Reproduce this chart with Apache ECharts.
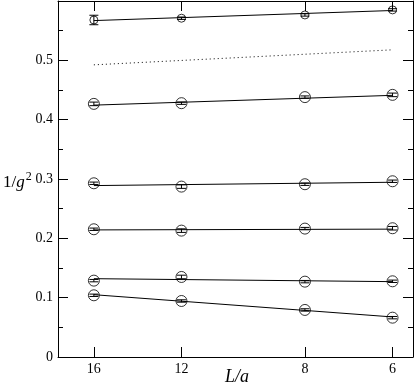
<!DOCTYPE html>
<html>
<head>
<meta charset="utf-8">
<script src="https://cdn.jsdelivr.net/npm/echarts@6/dist/echarts.min.js"></script>
<style>html,body{margin:0;padding:0;background:#fff}#c{width:415px;height:391px}</style>
</head>
<body>
<div id="c"></div>
<script>
// L/a values (x axis is logarithmic in L, reversed)
const L = [16, 12, 8, 6];
const xTickLabels = [16, 12, 8, 6];
// measured 1/g^2 values and errors
const s1 = [0.568, 0.571, 0.5765, 0.585];
const e1 = [0.008, 0.002, 0.002, 0.002];
const s2 = [0.4266, 0.4278, 0.438, 0.4418];
const e2 = [0.003, 0.002, 0.002, 0.003];
const s3 = [0.2928, 0.2872, 0.2912, 0.2962];
const e3 = [0.002, 0.003, 0.002, 0.002];
const s4 = [0.2153, 0.213, 0.2164, 0.217];
const e4 = [0.002, 0.003, 0.002, 0.003];
const s5 = [0.1287, 0.1349, 0.127, 0.1276];
const e5 = [0.002, 0.003, 0.002, 0.002];
const s6 = [0.104, 0.0944, 0.0793, 0.0663];
const e6 = [0.002, 0.002, 0.002, 0.002];
// fit lines: values at L=16 and L=6
const fitL = [16, 6];
const fit1 = [0.567, 0.584];
const fit2 = [0.4245, 0.441];
const fit3 = [0.2889, 0.2945];
const fit4 = [0.2142, 0.2155];
const fit5 = [0.132, 0.127];
const fit6 = [0.105, 0.0675];
const dotted = [0.4924, 0.5177];

const FONT = '"Liberation Serif", "DejaVu Serif", serif';
const lx = v => Math.log(v);

const points = [s1, s2, s3, s4, s5, s6];
const errs = [e1, e2, e3, e4, e5, e6];
const fits = [fit1, fit2, fit3, fit4, fit5, fit6];
const sizes = [8, 11, 11, 11, 11, 11];

const series = [];
fits.forEach(f => {
  series.push({
    type: 'line', xAxisIndex: 0, yAxisIndex: 0, symbol: 'none', silent: true,
    data: fitL.map((l, i) => [lx(l), f[i]]),
    lineStyle: { color: '#000', width: 1 }
  });
});
series.push({
  type: 'line', symbol: 'none', silent: true,
  data: fitL.map((l, i) => [lx(l), dotted[i]]),
  lineStyle: { color: '#000', width: 1, type: [1, 3] }
});
points.forEach((s, k) => {
  series.push({
    type: 'custom', silent: true,
    data: L.map((l, i) => [lx(l), s[i], errs[k][i]]),
    renderItem: function (params, api) {
      const x = api.value(0), y = api.value(1), e = api.value(2);
      const p = api.coord([x, y + e]);
      const q = api.coord([x, y - e]);
      const w = 4.5;
      const st = { stroke: '#000', lineWidth: 1, fill: null };
      return {
        type: 'group', children: [
          { type: 'line', shape: { x1: p[0], y1: p[1], x2: q[0], y2: q[1] }, style: st },
          { type: 'line', shape: { x1: p[0] - w, y1: p[1], x2: p[0] + w, y2: p[1] }, style: st },
          { type: 'line', shape: { x1: q[0] - w, y1: q[1], x2: q[0] + w, y2: q[1] }, style: st }
        ]
      };
    },
    encode: { x: 0, y: 1 }
  });
  series.push({
    type: 'scatter', symbol: 'circle', symbolSize: sizes[k], silent: true,
    data: L.map((l, i) => [lx(l), s[i]]),
    itemStyle: { color: 'rgba(0,0,0,0)', borderColor: '#000', borderWidth: 1 }
  });
});

const xMin = Math.log(5.61), xMax = Math.log(18.0);
const ticks = xTickLabels.map(lx);

const chart = echarts.init(document.getElementById('c'));
chart.setOption({
  animation: false,
  backgroundColor: '#fff',
  grid: { left: 58, right: 2, top: 1, bottom: 34 },
  xAxis: [
    {
      type: 'value', position: 'bottom', inverse: true, min: xMin, max: xMax,
      splitLine: { show: false },
      axisLine: { show: true, onZero: false, lineStyle: { color: '#000', width: 1 } },
      axisTick: { show: true, inside: true, length: 10, customValues: ticks, lineStyle: { color: '#000' } },
      axisLabel: { customValues: ticks, formatter: v => String(Math.round(Math.exp(v))),
        color: '#000', fontFamily: FONT, fontSize: 14, margin: 5 }
    },
    {
      type: 'value', position: 'top', inverse: true, min: xMin, max: xMax,
      splitLine: { show: false },
      axisLine: { show: true, onZero: false, lineStyle: { color: '#000', width: 1 } },
      axisTick: { show: true, inside: true, length: 10, customValues: ticks, lineStyle: { color: '#000' } },
      axisLabel: { show: false }
    }
  ],
  yAxis: [
    {
      type: 'value', position: 'left', min: 0, max: 0.6, interval: 0.1,
      splitLine: { show: false },
      axisLine: { show: true, onZero: false, lineStyle: { color: '#000', width: 1 } },
      axisTick: { show: true, inside: true, length: 10, lineStyle: { color: '#000' } },
      minorTick: { show: true, splitNumber: 2, length: 5, lineStyle: { color: '#000' } },
      axisLabel: { color: '#000', fontFamily: FONT, fontSize: 14, margin: 5,
        formatter: v => (v > 0.55 ? '' : (Math.round(v * 10) / 10).toString()) }
    },
    {
      type: 'value', position: 'right', min: 0, max: 0.6, interval: 0.1,
      splitLine: { show: false },
      axisLine: { show: true, onZero: false, lineStyle: { color: '#000', width: 1 } },
      axisTick: { show: true, inside: true, length: 10, lineStyle: { color: '#000' } },
      minorTick: { show: true, splitNumber: 2, length: 5, lineStyle: { color: '#000' } },
      axisLabel: { show: false }
    }
  ],
  graphic: [
    {
      type: 'text', left: 3, top: 171,
      style: {
        text: '{n|1/}{g|g}{s|2}',
        rich: {
          n: { fontFamily: FONT, fontSize: 17, fill: '#000' },
          g: { fontFamily: FONT, fontSize: 17, fontStyle: 'italic', fill: '#000' },
          s: { fontFamily: FONT, fontSize: 12, fill: '#000', verticalAlign: 'top', padding: [0, 0, 12, 1] }
        }
      }
    },
    {
      type: 'text', left: 225, top: 368,
      style: { text: 'L/a', fontFamily: FONT, fontSize: 18, fontStyle: 'italic', fill: '#000' }
    }
  ],
  series: series
});
</script>
</body>
</html>
